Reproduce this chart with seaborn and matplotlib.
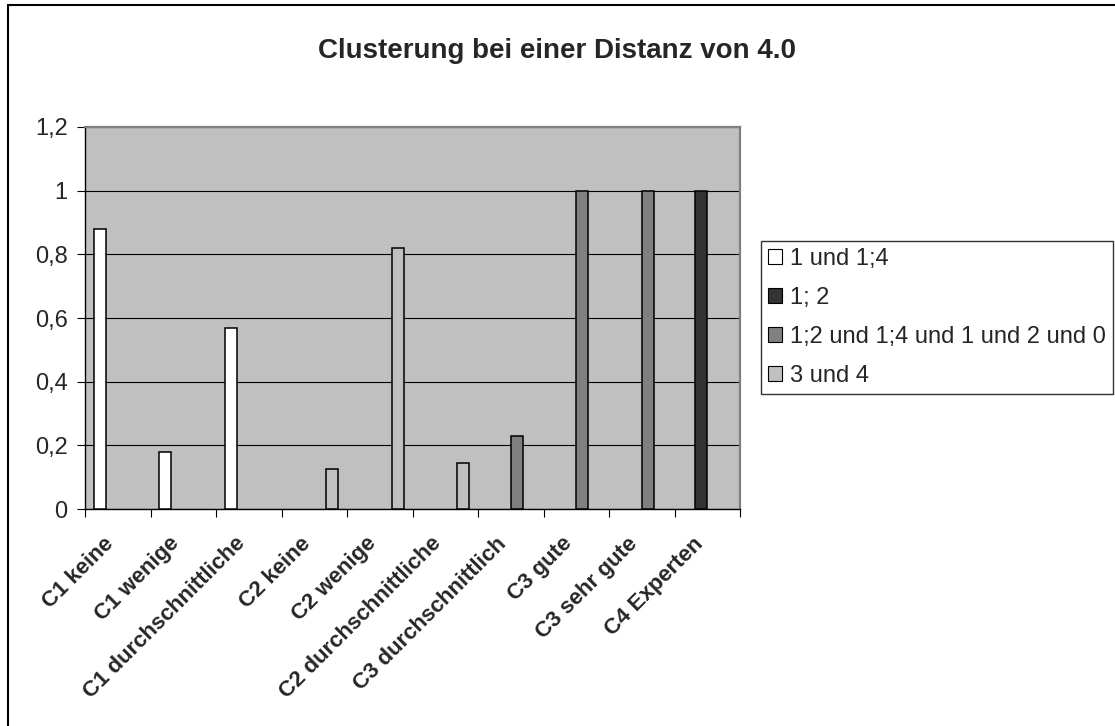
import numpy as np
import pandas as pd
import matplotlib
matplotlib.use("Agg")
import matplotlib.pyplot as plt
import matplotlib.transforms as mtransforms
from matplotlib.patches import Patch
from matplotlib.lines import Line2D
from matplotlib.ticker import FuncFormatter
import seaborn as sns

# ---- data -------------------------------------------------------------
categories = [
    "C1 keine", "C1 wenige", "C1 durchschnittliche",
    "C2 keine", "C2 wenige", "C2 durchschnittliche",
    "C3 durchschnittlich", "C3 gute", "C3 sehr gute", "C4 Experten",
]
series_names = ["1 und 1;4", "1; 2", "1;2 und 1;4 und 1 und 2 und 0", "3 und 4"]
series_colors = ["#FFFFFF", "#333333", "#808080", "#C0C0C0"]

nan = np.nan
vals_1_und_1_4 = [0.88, 0.18, 0.57, nan, nan, nan, nan, nan, nan, nan]
vals_1_2 = [nan, nan, nan, nan, nan, nan, nan, nan, nan, 1.0]
vals_1_2_und_mehr = [nan, nan, nan, nan, nan, nan, 0.23, 1.0, 1.0, nan]
vals_3_und_4 = [nan, nan, nan, 0.125, 0.82, 0.145, nan, nan, nan, nan]

title = "Clusterung bei einer Distanz von 4.0"
y_ticks = [0, 0.2, 0.4, 0.6, 0.8, 1.0, 1.2]

# ---- long table for seaborn -----------------------------------------
wide = pd.DataFrame(
    {
        series_names[0]: vals_1_und_1_4,
        series_names[1]: vals_1_2,
        series_names[2]: vals_1_2_und_mehr,
        series_names[3]: vals_3_und_4,
    },
    index=categories,
)
df = (
    wide.reset_index()
    .rename(columns={"index": "Kategorie"})
    .melt(id_vars="Kategorie", var_name="Gruppe", value_name="Anteil")
    .dropna()
)

# ---- styling ----------------------------------------------------------
sns.set_style("white")
plt.rcParams["font.family"] = ["Liberation Sans", "DejaVu Sans"]

W, H = 1115, 726
fig = plt.figure(figsize=(W / 100, H / 100), dpi=100)
fig.patch.set_facecolor("white")

ax_left, ax_right, ax_top, ax_bottom = 85, 740, 127, 509
ax = fig.add_axes([ax_left / W, 1 - ax_bottom / H,
                   (ax_right - ax_left) / W, (ax_bottom - ax_top) / H])
ax.set_facecolor("#C0C0C0")

sns.barplot(
    data=df, x="Kategorie", y="Anteil", hue="Gruppe",
    order=categories, hue_order=series_names,
    palette=dict(zip(series_names, series_colors)),
    width=4 / 5.5, dodge=True, saturation=1, errorbar=None, legend=False,
    edgecolor="black", linewidth=1.1, ax=ax, zorder=3,
)

# y axis
ax.set_ylim(0, 1.2)
ax.set_yticks(y_ticks)
ax.yaxis.set_major_formatter(FuncFormatter(lambda v, p: f"{v:g}".replace(".", ",")))
ax.yaxis.grid(True, color="black", linewidth=0.8, zorder=1)
ax.set_axisbelow(True)
ax.tick_params(axis="y", which="major", direction="out", length=5.5, width=0.8,
               color="black", pad=7, labelsize=17, left=True)

# x axis: labels at category centres, ticks on category boundaries
ax.set_xlim(-0.5, len(categories) - 0.5)
ax.set_xlabel("")
ax.set_ylabel("")
ax.set_xticks(range(len(categories)))
ax.set_xticks(np.arange(len(categories) + 1) - 0.5, minor=True)
ax.tick_params(axis="x", which="minor", direction="out", length=5.5, width=0.8,
               color="black", bottom=True)
ax.tick_params(axis="x", which="major", length=0, pad=22)
offset = mtransforms.ScaledTranslation(-7 / 100, -1 / 100, fig.dpi_scale_trans)
for lab in ax.get_xticklabels():
    lab.set_rotation(45)
    lab.set_rotation_mode("anchor")
    lab.set_ha("right")
    lab.set_va("center")
    lab.set_fontweight("bold")
    lab.set_fontsize(16)
    lab.set_transform(lab.get_transform() + offset)

# plot-area frame
for side in ("top", "right"):
    ax.spines[side].set_visible(True)
    ax.spines[side].set_color("#808080")
    ax.spines[side].set_linewidth(1.6)
for side in ("left", "bottom"):
    ax.spines[side].set_color("black")
    ax.spines[side].set_linewidth(1.0)

# title
fig.text(0.5, 1 - 51 / H, title, ha="center", va="center",
         fontsize=20, fontweight="bold")

# legend
handles = [Patch(facecolor=c, edgecolor="black", linewidth=0.8) for c in series_colors]
leg = fig.legend(
    handles, series_names, loc="upper left",
    bbox_to_anchor=(761 / W, 1 - 241 / H),
    frameon=True, fancybox=False, shadow=False, fontsize=17,
    handlelength=0.58, handleheight=0.58, handletextpad=0.35,
    labelspacing=0.72, borderpad=0.3, borderaxespad=0,
)
leg.get_frame().set_edgecolor("black")
leg.get_frame().set_linewidth(1.0)

# outer chart border
fig.add_artist(Line2D([7.5 / W, 7.5 / W], [0, 1 - 5 / H], transform=fig.transFigure,
                      color="black", linewidth=1.5))
fig.add_artist(Line2D([7.5 / W, 1], [1 - 5 / H, 1 - 5 / H], transform=fig.transFigure,
                      color="black", linewidth=1.5))

fig.savefig("out.png", dpi=100)
